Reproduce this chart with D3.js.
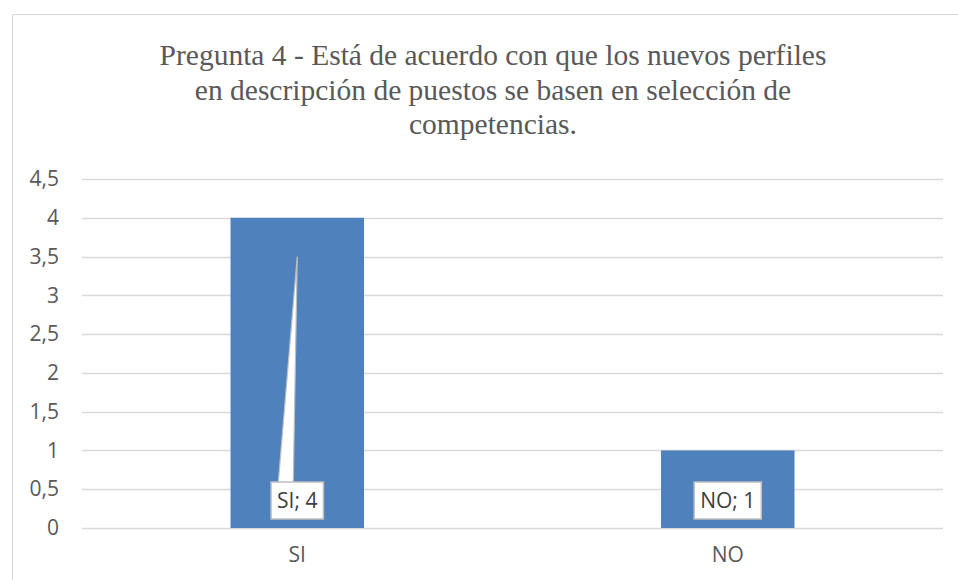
<!DOCTYPE html>
<html>
<head>
<meta charset="utf-8">
<script src="https://cdn.jsdelivr.net/npm/d3@7"></script>
<style>
  body { margin: 0; background: #fff; }
  svg { display: block; }
</style>
</head>
<body>
<script>
// chart data
var categories = ["SI", "NO"];
var values = [4, 1];
var yTicks = [0, 0.5, 1, 1.5, 2, 2.5, 3, 3.5, 4, 4.5];
var titleLines = [
    "Pregunta 4 - Está de acuerdo con que los nuevos perfiles",
    "en descripción de puestos se basen en selección de",
    "competencias."
];

window.onload = () => {
    var W = 958, H = 580;
    var margin = { top: 179, right: 15, bottom: 52, left: 82 },
        width = W - margin.left - margin.right,
        height = H - margin.top - margin.bottom;
    var sansFont = "'Open Sans', 'Liberation Sans', sans-serif";

    var svg = d3.select("body").append("svg")
        .attr("width", W).attr("height", H);

    // outer chart frame
    svg.append("rect")
        .attr("x", 12.5).attr("y", 14.5)
        .attr("width", 980).attr("height", 620)
        .attr("fill", "none").attr("stroke", "#d9d9d9");

    // title
    svg.append("g").selectAll("text")
        .data(titleLines).enter().append("text")
        .attr("x", 493)
        .attr("y", (d, i) => 65 + i * 34.5)
        .attr("text-anchor", "middle")
        .style("font-family", "'Liberation Serif', 'Times New Roman', serif")
        .style("font-size", "29.5px")
        .style("fill", "#595959")
        .text(d => d);

    var g = svg.append("g")
        .attr("transform", "translate(" + margin.left + "," + margin.top + ")");

    var x = d3.scaleBand().domain(categories).range([0, width])
        .paddingInner(0.69).paddingOuter(0.345);
    var y = d3.scaleLinear().domain([0, 4.5]).range([height, 0]);

    // gridlines
    g.append("g").selectAll("line")
        .data(yTicks).enter().append("line")
        .attr("x1", 0).attr("x2", width)
        .attr("y1", d => Math.round(y(d)) + 0.5)
        .attr("y2", d => Math.round(y(d)) + 0.5)
        .attr("stroke", "#d9d9d9").attr("stroke-width", 1.3);

    // y axis labels
    var yAxis = g.append("g")
        .call(d3.axisLeft(y).tickValues(yTicks).tickSize(0).tickPadding(23)
            .tickFormat(d => String(d).replace(".", ",")));
    yAxis.select(".domain").remove();
    yAxis.selectAll("text")
        .style("font-family", sansFont)
        .style("font-size", "21px")
        .style("fill", "#595959");

    // bars
    g.append("g").selectAll("rect")
        .data(values).enter().append("rect")
        .attr("x", (d, i) => x(categories[i]))
        .attr("y", d => y(d))
        .attr("width", x.bandwidth())
        .attr("height", d => height - y(d))
        .attr("fill", "#4f81bd");

    // x axis labels
    var xAxis = g.append("g")
        .attr("transform", "translate(0," + height + ")")
        .call(d3.axisBottom(x).tickSize(0).tickPadding(19));
    xAxis.select(".domain").remove();
    xAxis.selectAll("text")
        .style("font-family", sansFont)
        .style("font-size", "21px")
        .style("fill", "#595959");

    // data labels with callouts
    var labelTop = y(0) - 46;
    var labels = g.append("g").selectAll("g")
        .data(values).enter().append("g")
        .attr("transform", (d, i) => "translate(" + (x(categories[i]) + x.bandwidth() / 2) + "," + labelTop + ")");

    // callout wedge pointing at the middle of tall bars
    labels.filter(d => d > 2).append("path")
        .attr("d", d => {
            var tipY = y(d * 0.875) - labelTop;
            return "M-19,1 L0," + tipY + " L-4,1 Z";
        })
        .attr("fill", "#fff").attr("stroke", "#bfbfbf").attr("stroke-width", 1.2);

    labels.each(function (d, i) {
        var sel = d3.select(this);
        var txt = categories[i] + "; " + d;
        var t = sel.append("text")
            .attr("x", 0).attr("y", 26)
            .attr("text-anchor", "middle")
            .style("font-family", sansFont)
            .style("font-size", "21px")
            .style("fill", "#404040")
            .text(txt);
        var bw = t.node().getComputedTextLength() + 12;
        sel.insert("rect", "text")
            .attr("x", -bw / 2).attr("y", 0)
            .attr("width", bw).attr("height", 37)
            .attr("fill", "#fff").attr("stroke", "#bfbfbf").attr("stroke-width", 1.5);
    });
};
</script>
</body>
</html>
